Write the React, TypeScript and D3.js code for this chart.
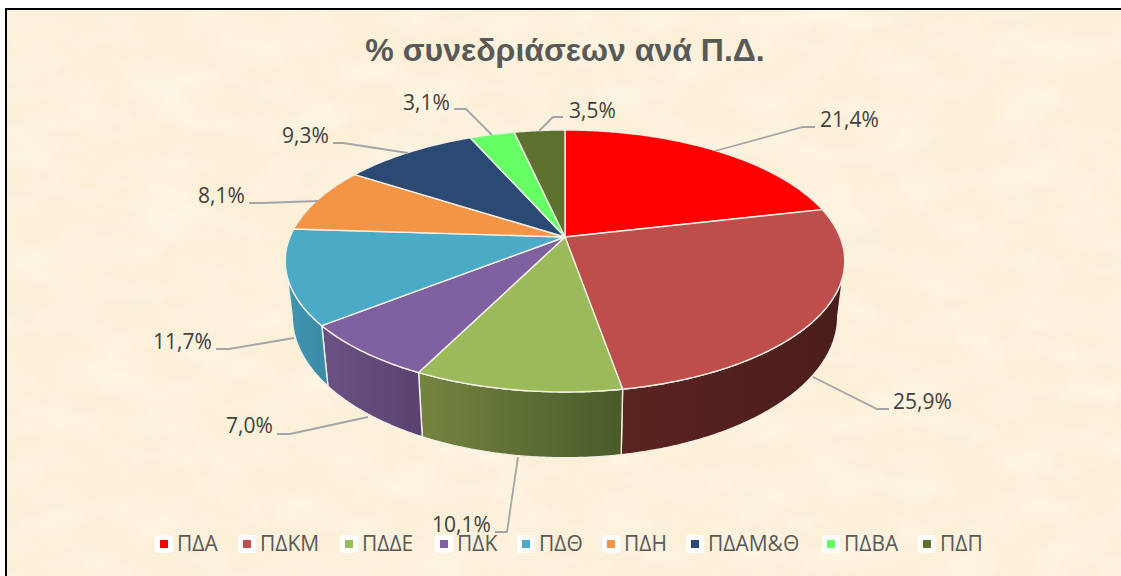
import React from "react";
import * as d3 from "d3";

const title = "% συνεδριάσεων ανά Π.Δ.";
const categories = ["ΠΔΑ", "ΠΔΚΜ", "ΠΔΔΕ", "ΠΔΚ", "ΠΔΘ", "ΠΔΗ", "ΠΔΑΜ&Θ", "ΠΔΒΑ", "ΠΔΠ"];
const values = [21.4, 25.9, 10.1, 7.0, 11.7, 8.1, 9.3, 3.1, 3.5];
const valueLabels = ["21,4%", "25,9%", "10,1%", "7,0%", "11,7%", "8,1%", "9,3%", "3,1%", "3,5%"];
const topColors = ["#FF0000", "#BE4E4B", "#9BBA59", "#7F60A0", "#4BAAC5", "#F39545", "#2A4A73", "#66FF66", "#5E712F"];
const wallFrom = ["#5a1010", "#5A2420", "#748540", "#6A5285", "#4096AF", "#9A5A28", "#1A3050", "#3F9F3F", "#3A4A20"];
const wallTo = ["#4a0a0a", "#4A1D1C", "#4A5A2A", "#5A4370", "#3C8CA8", "#8A5020", "#142848", "#358035", "#303E1A"];

// Layout, kept apart from the data
const labelX = [820, 893, 432, 226, 153, 198, 282, 403, 569];
const labelY = [127, 409, 532, 433, 349, 203, 143, 110, 118];
const leaders: [number, number][][] = [
  [[715, 151], [803, 127], [815, 127]],
  [[813, 377], [877, 409], [889, 409]],
  [[518, 457], [507, 532], [495, 532]],
  [[368, 417], [290, 434], [277, 434]],
  [[294, 338], [229, 349], [216, 349]],
  [[318, 201], [262, 203], [249, 203]],
  [[408, 153], [343, 143], [333, 143]],
  [[492, 135], [466, 109], [454, 109]],
  [[539, 131], [553, 117], [563, 117]],
];
const legendX = [155, 238, 340, 435, 517, 602, 686, 822, 918];

// Perspective projection of the pie's disc
const cx = 565, cy = 237, A = 275, B = 126.6, K = 0.183;
const topPoint = (t: number): [number, number] => {
  const u = Math.sin(t), v = Math.cos(t), d = 1 + K * v;
  return [cx + (A * u) / d, cy - (B * v) / d];
};
const botPoint = (t: number): [number, number] => {
  const [x, y] = topPoint(t);
  return [cx + (x - cx) * 0.975, 290.4 + (y - cy) * 1.08];
};
const tangentR = Math.acos(-K);
const tangentL = 2 * Math.PI - tangentR;

const sample = (a: number, b: number) => {
  const n = Math.max(2, Math.ceil(Math.abs(b - a) / 0.01));
  return d3.range(n + 1).map((i) => a + ((b - a) * i) / n);
};

const pieLayout = d3.pie<number>().sort(null).value((d) => d);
const arcs = pieLayout(values);
const line = d3.line<[number, number]>();

export default function App() {
  const walls = arcs
    .map((a, i) => ({ i, a0: Math.max(a.startAngle, tangentR), a1: Math.min(a.endAngle, tangentL) }))
    .filter((w) => w.a1 > w.a0);

  return (
    <svg
      width={1121}
      height={576}
      style={{ position: "absolute", left: 0, top: 0, display: "block" }}
      fontFamily="'Open Sans', sans-serif"
    >
      <defs>
        <filter id="paper" x="0" y="0" width="100%" height="100%">
          <feTurbulence type="fractalNoise" baseFrequency="0.018 0.024" numOctaves={4} seed={7} />
          <feColorMatrix
            type="matrix"
            values="0 0 0 0 0.93  0 0 0 0 0.87  0 0 0 0 0.70  0.9 0 0 0 -0.36"
          />
        </filter>
        <filter id="paper2" x="0" y="0" width="100%" height="100%">
          <feTurbulence type="fractalNoise" baseFrequency="0.015 0.03" numOctaves={3} seed={21} />
          <feColorMatrix
            type="matrix"
            values="0 0 0 0 1  0 0 0 0 0.97  0 0 0 0 0.92  0.9 0 0 0 -0.36"
          />
        </filter>
        {walls.map((w) => {
          const p0 = topPoint(w.a0), p1 = topPoint(w.a1);
          return (
            <linearGradient
              key={w.i}
              id={`wall${w.i}`}
              gradientUnits="userSpaceOnUse"
              x1={Math.min(p0[0], p1[0])}
              x2={Math.max(p0[0], p1[0])}
              y1={0}
              y2={0}
            >
              <stop offset="0" stopColor={wallFrom[w.i]} />
              <stop offset="1" stopColor={wallTo[w.i]} />
            </linearGradient>
          );
        })}
      </defs>

      <rect x={0} y={0} width={1121} height={576} fill="#ffffff" />
      <rect x={6} y={9} width={1115} height={567} fill="#FCF0D8" />
      <rect x={7} y={10} width={1114} height={566} filter="url(#paper)" />
      <rect x={7} y={10} width={1114} height={566} filter="url(#paper2)" />
      <path d="M6,576V9H1121" fill="none" stroke="#000000" strokeWidth={2} />

      <text x={565} y={61} textAnchor="middle" fontFamily="'Liberation Sans', Arial, sans-serif" fontWeight={700} fontSize={32} fill="#595959">
        {title}
      </text>

      {walls.map((w) => {
        const top = sample(w.a0, w.a1).map(topPoint);
        const bot = sample(w.a1, w.a0).map(botPoint);
        return (
          <path
            key={w.i}
            d={line([...top, ...bot]) + "Z"}
            fill={`url(#wall${w.i})`}
            stroke="#F4EFE6"
            strokeWidth={1.4}
            strokeLinejoin="round"
          />
        );
      })}

      {arcs.map((a, i) => {
        const rim = sample(a.startAngle, a.endAngle).map(topPoint);
        return (
          <path
            key={i}
            d={line([[cx, cy], ...rim]) + "Z"}
            fill={topColors[i]}
            stroke="#F4EFE6"
            strokeWidth={1.4}
            strokeLinejoin="round"
          />
        );
      })}

      {leaders.map((pts, i) => (
        <path key={i} d={line(pts) ?? ""} fill="none" stroke="#A3A5A8" strokeWidth={1.8} />
      ))}
      {categories.map((c, i) => (
        <g key={c}>
          <rect x={legendX[i]} y={535} width={18} height={18} rx={3} fill="#ffffff" />
          <rect x={legendX[i] + 5} y={540} width={8} height={8} fill={topColors[i]} />
          <text x={legendX[i] + 22} y={551} fontSize={21} fill="#595959">
            {c}
          </text>
        </g>
      ))}
      {valueLabels.map((t, i) => (
        <text key={i} x={labelX[i]} y={labelY[i]} fontSize={21} fill="#404040">
          {t}
        </text>
      ))}
    </svg>
  );
}
